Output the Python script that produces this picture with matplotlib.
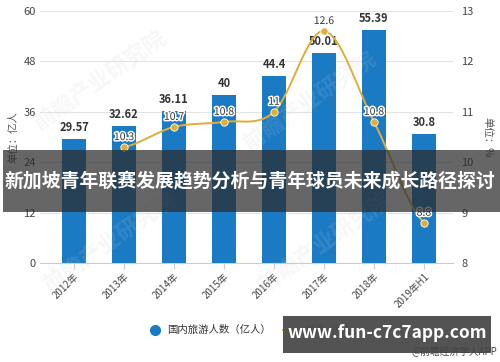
import numpy as np
import matplotlib.pyplot as plt
import matplotlib.patheffects as pe
from matplotlib.patches import Rectangle

plt.rcParams['font.family'] = ['Noto Sans CJK SC', 'DejaVu Sans']

years = ['2012年', '2013年', '2014年', '2015年', '2016年', '2017年', '2018年', '2019年H1']
tourists = [29.57, 32.62, 36.11, 40, 44.4, 50.01, 55.39, 30.8]
growth_years = [1, 2, 3, 4, 5, 6, 7]
growth = [10.3, 10.7, 10.8, 11, 12.6, 10.8, 8.8]

bar_color = '#1a7bc4'
line_color = '#e2ad35'


def smooth(xs, ys, n=30):
    # catmull-rom style curve through the points, like echarts smooth line
    xs = np.asarray(xs, float)
    ys = np.asarray(ys, float)
    px, py = [], []
    for i in range(len(xs) - 1):
        y0 = ys[i - 1] if i > 0 else ys[i]
        y3 = ys[i + 2] if i + 2 < len(ys) else ys[i + 1]
        m1 = (ys[i + 1] - y0) / 2
        m2 = (y3 - ys[i]) / 2
        t = np.linspace(0, 1, n)
        h00 = 2 * t**3 - 3 * t**2 + 1
        h10 = t**3 - 2 * t**2 + t
        h01 = -2 * t**3 + 3 * t**2
        h11 = t**3 - t**2
        px.extend(xs[i] + t * (xs[i + 1] - xs[i]))
        py.extend(h00 * ys[i] + h10 * m1 + h01 * ys[i + 1] + h11 * m2)
    return px, py


fig = plt.figure(figsize=(5, 3.62), dpi=100)
ax = fig.add_axes([0.08, 0.273, 0.826, 0.697])
ax2 = ax.twinx()

x = np.arange(len(years))
ax.bar(x, tourists, width=0.47, color=bar_color, zorder=2)
for xi, v in zip(x, tourists):
    ax.text(xi, v + 1.2, f'{v:g}', ha='center', va='bottom', fontsize=8,
            fontweight='bold', color='#333333', zorder=5)

ax.set_ylim(0, 60)
ax.set_yticks([0, 12, 24, 36, 48, 60])
ax.set_xlim(-0.68, 7.58)
ax.set_xticks(x)
ax.set_xticklabels(years, rotation=45, ha='right', rotation_mode='anchor', fontsize=7, color='#444444')
ax.tick_params(axis='x', length=4, color='#cccccc', pad=2)
ax.tick_params(axis='y', length=0, labelsize=8, labelcolor='#444444', pad=3)
ax.grid(axis='y', color='#e3e3e3', lw=0.8, zorder=0)
for s in ['top', 'right', 'left']:
    ax.spines[s].set_visible(False)
ax.spines['bottom'].set_color('#cccccc')

cx, cy = smooth(growth_years, growth)
ax2.plot(cx, cy, color=line_color, lw=1.4, zorder=3)
ax2.scatter(growth_years, growth, s=28, color=line_color, edgecolor='white', linewidth=0.6, zorder=4)
for xi, v in zip(growth_years, growth):
    ax2.text(xi, v + 0.1, f'{v:g}', ha='center', va='bottom', fontsize=7.5, color='#333333',
             path_effects=[pe.withStroke(linewidth=2.2, foreground='white')], zorder=5)
ax2.set_ylim(8, 13)
ax2.set_yticks([8, 9, 10, 11, 12, 13])
ax2.tick_params(axis='y', length=0, labelsize=8, labelcolor='#444444', pad=6)
for s in ax2.spines.values():
    s.set_visible(False)

fig.text(0.026, 0.62, '单位：亿人', rotation=90, ha='center', va='center', fontsize=7.5, color='#555555')
fig.text(0.974, 0.62, '单位：%', rotation=-90, ha='center', va='center', fontsize=7.5, color='#555555')

# faint watermarks
for wx, wy in [(0.2, 0.78), (0.62, 0.72), (0.22, 0.33), (0.65, 0.33)]:
    fig.text(wx, wy, '前瞻产业研究院', rotation=35, fontsize=16, color='#cccccc', alpha=0.15,
             ha='center', va='center', fontweight='bold')

# legend
fig.lines.append(plt.Line2D([0.31], [0.088], marker='o', ms=7, color=bar_color, transform=fig.transFigure))
fig.text(0.335, 0.088, '国内旅游人数（亿人）', fontsize=7.5, va='center', color='#333333')
fig.lines.append(plt.Line2D([0.565, 0.605], [0.088, 0.088], color=line_color, lw=1.4, transform=fig.transFigure))
fig.lines.append(plt.Line2D([0.585], [0.088], marker='o', ms=4, color=line_color, transform=fig.transFigure))
fig.text(0.61, 0.088, '增速（%）', fontsize=7.5, va='center', color='#333333')

# title banner overlay
fig.patches.append(Rectangle((0.006, 0.414), 0.994, 0.171, transform=fig.transFigure,
                             facecolor='#2b2b2b', alpha=0.72, zorder=10))
fig.text(0.5, 0.5, '新加坡青年联赛发展趋势分析与青年球员未来成长路径探讨', ha='center', va='center',
         fontsize=13.6, fontweight='bold', color='white', zorder=11)

# url banner
fig.patches.append(Rectangle((0.566, 0.025), 0.416, 0.102, transform=fig.transFigure,
                             facecolor='#4a4a4a', alpha=0.95, zorder=10))
fig.text(0.774, 0.08, 'www.fun-c7c7app.com', ha='center', va='center', fontsize=12.5,
         fontweight='bold', color='white', zorder=11)
fig.text(0.995, 0.028, '@前瞻经济学人APP', ha='right', va='center', fontsize=7, color='#444444', zorder=12)

fig.savefig('out.png', dpi=100)
